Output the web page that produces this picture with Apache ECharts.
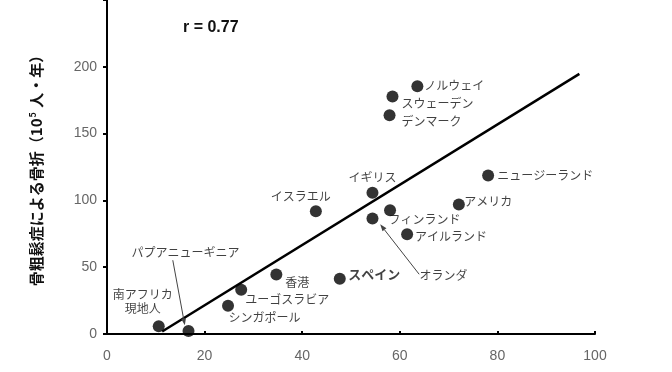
<!DOCTYPE html>
<html><head><meta charset="utf-8">
<script src="https://cdn.jsdelivr.net/npm/echarts@6/dist/echarts.min.js"></script>
<style>html,body{margin:0;padding:0;background:#fff}#c{width:672px;height:372px}</style>
</head><body><div id="c"></div>
<script>
// ---- data ----
const countries = ['ノルウェイ','スウェーデン','デンマーク','イギリス','ニュージーランド','アメリカ','フィンランド','オランダ','アイルランド','スペイン','イスラエル','香港','ユーゴスラビア','シンガポール','南アフリカ\n現地人','パプアニューギニア'];
const xValues = [63.6, 58.5, 57.9, 54.4, 78.1, 72.1, 58.0, 54.4, 61.5, 47.7, 42.8, 34.7, 27.5, 24.8, 10.6, 16.7];
const yValues = [185.4, 177.7, 163.8, 105.8, 118.7, 96.9, 92.7, 86.4, 74.6, 41.4, 91.8, 44.5, 33.2, 21.1, 5.8, 2.3];
const trendX = [11.3, 96.8];
const trendY = [1.9, 194.7];
const xTickValues = [0, 20, 40, 60, 80, 100];
const yTickValues = [0, 50, 100, 150, 200];
const rText = 'r = 0.77';

// ---- layout (pixel offsets of labels from their dots) ----
const labelOffsets = {
  'ノルウェイ':[37,-1], 'スウェーデン':[45,7], 'デンマーク':[42,6], 'イギリス':[0,-15],
  'ニュージーランド':[57,0], 'アメリカ':[29.5,-3], 'フィンランド':[34.5,9.7], 'オランダ':[71,57],
  'アイルランド':[44,2], 'スペイン':[34.5,-5], 'イスラエル':[-15,-15], '香港':[21,8],
  'ユーゴスラビア':[46,10], 'シンガポール':[36.5,12], '南アフリカ\n現地人':[-16,-25],
  'パプアニューギニア':[-3,-78]
};
const arrows = {
  'オランダ': {from:[46.7,55.7], to:[7.7,5.7]},
  'パプアニューギニア': {from:[-15.7,-70.7], to:[-3.7,-5.7]}
};

const JP = '"Noto Sans CJK JP", sans-serif';
const chart = echarts.init(document.getElementById('c'));

const scatterData = countries.map((n, i) => {
  const o = labelOffsets[n] || [0,0];
  const bold = n === 'スペイン';
  return {
    name: n, value: [xValues[i], yValues[i]],
    label: {
      show: true, position: 'inside', offset: o, formatter: '{b}',
      fontFamily: JP, fontSize: bold ? 13 : 12, fontWeight: bold ? 'bold' : 'normal',
      color: '#111', lineHeight: 14
    }
  };
});

chart.setOption({
  animation: false,
  backgroundColor: '#fff',
  grid: {left: 107, right: 77, top: -22, bottom: 38, containLabel: false},
  title: {text: rText, left: 178, top: 15, textStyle: {fontFamily: 'Liberation Sans, Arial, sans-serif', fontSize: 16, fontWeight: 'bold', color: '#111'}},
  xAxis: {
    type: 'value', min: 0, max: 100, interval: 20,
    axisLine: {show: true, onZero: false, lineStyle: {color: '#000', width: 2}},
    axisTick: {show: true, inside: true, length: 3, lineStyle: {color: '#000', width: 2}},
    axisLabel: {color: '#666', fontSize: 14, fontFamily: 'Liberation Sans, Arial, sans-serif', margin: 15,
      formatter: v => xTickValues.includes(v) ? String(v) : ''},
    splitLine: {show: false}
  },
  yAxis: {
    type: 'value', min: 0, max: 250, interval: 50,
    axisLine: {show: true, onZero: false, lineStyle: {color: '#000', width: 2}},
    axisTick: {show: true, inside: false, length: 4, lineStyle: {color: '#000', width: 2}},
    axisLabel: {color: '#666', fontSize: 14, fontFamily: 'Liberation Sans, Arial, sans-serif', margin: 10,
      formatter: v => yTickValues.includes(v) ? String(v) : ''},
    splitLine: {show: false},
    name: '{t|骨粗鬆症による骨折（10}{s|5}{t| 人・年）}',
    nameLocation: 'middle', nameRotate: 90, nameGap: 63,
    nameTextStyle: {
      rich: {
        t: {fontFamily: JP, fontSize: 15, fontWeight: 'bold', color: '#111'},
        s: {fontFamily: JP, fontSize: 9, fontWeight: 'bold', color: '#111', verticalAlign: 'top', padding:[0,1,7,1]}
      }
    }
  },
  series: [
    {
      type: 'line', data: trendX.map((x, i) => [x, trendY[i]]), symbol: 'none',
      lineStyle: {color: '#000', width: 2.5}, z: 1, silent: true
    },
    {
      type: 'scatter', data: scatterData, symbol: 'circle', symbolSize: 12,
      itemStyle: {color: '#000'}, z: 3
    }
  ]
});

// annotation arrows anchored to the data points
const graphics = [];
Object.keys(arrows).forEach(n => {
  const i = countries.indexOf(n);
  const p = chart.convertToPixel({seriesIndex: 1}, [xValues[i], yValues[i]]);
  const a = arrows[n];
  const x1 = p[0] + a.from[0], y1 = p[1] + a.from[1];
  const x2 = p[0] + a.to[0], y2 = p[1] + a.to[1];
  const ang = Math.atan2(y2 - y1, x2 - x1);
  const L = 7, W = 2.5;
  const bx = x2 - L * Math.cos(ang), by = y2 - L * Math.sin(ang);
  graphics.push({type: 'line', shape: {x1, y1, x2: bx, y2: by}, style: {stroke: '#444', lineWidth: 1}, z: 5});
  graphics.push({type: 'polygon', shape: {points: [[x2, y2],
    [bx + W * Math.sin(ang), by - W * Math.cos(ang)],
    [bx - W * Math.sin(ang), by + W * Math.cos(ang)]]}, style: {fill: '#444'}, z: 5});
});
chart.setOption({graphic: graphics});
</script>
</body></html>
